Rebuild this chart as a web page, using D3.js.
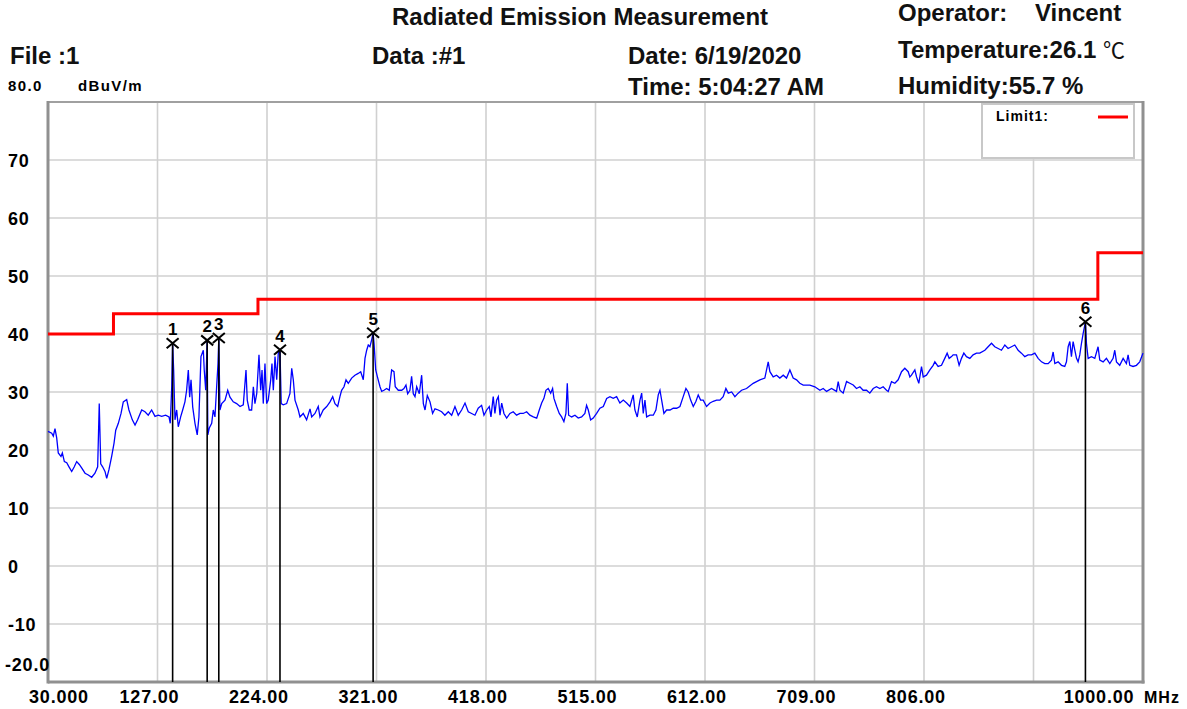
<!DOCTYPE html>
<html>
<head>
<meta charset="utf-8">
<script src="https://cdn.jsdelivr.net/npm/d3@7"></script>
<style>
  html, body { margin: 0; padding: 0; background: #fff; }
  svg { display: block; }
  text { font-family: "Liberation Sans", Arial, sans-serif; }
</style>
</head>
<body>
<svg id="chart" width="1187" height="709"></svg>
<script>
// ---------------- DATA ----------------
const xTicks = [30, 127, 224, 321, 418, 515, 612, 709, 806, 903, 1000];
const xTickLabels = ["30.000", "127.00", "224.00", "321.00", "418.00", "515.00", "612.00", "709.00", "806.00", "", "1000.00"];
const yTicks = [-20, -10, 0, 10, 20, 30, 40, 50, 60, 70];
const yTickLabels = ["-20.0", "-10", "0", "10", "20", "30", "40", "50", "60", "70"];

const limitEdges = [30, 88, 216, 960, 1000];
const limitLevels = [40, 43.5, 46, 54];

const markerIds = ["1", "2", "3", "4", "5", "6"];
const markerFreq = [140.4, 171.0, 181.3, 235.5, 318.0, 949.0];
const markerLevel = [38.4, 38.9, 39.3, 37.3, 40.2, 42.1];

const traceFreq = [
  30.0, 33.3, 34.7, 36.2, 37.7, 39.1, 41.5, 42.7, 44.5, 46.6, 48.6, 51.0, 53.3, 55.4, 57.7, 59.8,
  62.8, 65.7, 68.7, 71.6, 74.0, 75.4, 76.7, 78.4, 80.5, 82.0, 84.0, 86.4, 88.5, 90.0, 92.3, 94.7,
  96.7, 99.7, 101.7, 104.7, 107.1, 109.4, 113.0, 115.9, 118.8, 121.8, 124.8, 127.7, 130.7, 134.2,
  137.2, 138.3, 139.6, 140.4, 141.3, 142.5, 144.0, 145.4, 147.5, 149.3, 151.3, 152.8, 154.3, 155.5,
  156.7, 158.2, 160.2, 162.2, 163.7, 165.5, 167.6, 168.4, 169.7, 171.0, 171.6, 172.9, 175.0, 176.4,
  177.9, 179.4, 180.6, 181.3, 182.3, 183.9, 186.8, 189.2, 191.2, 194.1, 197.1, 200.1, 203.0, 205.4,
  206.5, 208.3, 210.4, 211.9, 213.3, 214.9, 216.9, 218.4, 219.6, 220.7, 222.2, 223.7, 225.1, 227.3,
  228.4, 229.6, 231.1, 232.6, 234.0, 235.5, 236.6, 238.4, 241.4, 244.3, 245.9, 247.3, 248.8, 251.7,
  253.2, 256.1, 259.1, 262.1, 263.6, 266.5, 269.4, 270.9, 273.8, 276.9, 279.8, 282.2, 284.2, 286.6,
  288.6, 290.1, 292.2, 294.0, 296.0, 299.0, 301.9, 304.8, 307.0, 309.3, 310.8, 312.3, 313.7, 315.2,
  316.7, 318.0, 318.8, 320.3, 321.7, 324.1, 325.6, 327.6, 330.0, 332.3, 334.4, 336.5, 337.6, 340.3,
  343.3, 345.3, 347.1, 348.6, 350.6, 352.1, 353.6, 355.1, 356.6, 358.9, 361.0, 362.5, 364.0, 366.0,
  368.4, 370.7, 372.8, 375.7, 378.7, 381.6, 384.6, 387.6, 390.5, 393.4, 396.4, 399.4, 402.3, 405.3,
  408.2, 411.1, 414.1, 416.2, 418.6, 420.9, 422.4, 424.4, 425.9, 427.4, 428.9, 430.4, 431.9, 433.9,
  436.3, 439.2, 442.1, 445.1, 448.1, 451.0, 454.0, 456.9, 459.9, 462.9, 465.2, 467.3, 469.3, 471.1,
  473.1, 475.3, 477.0, 478.2, 480.6, 482.9, 485.0, 487.0, 488.8, 490.0, 491.2, 493.9, 496.8, 499.7,
  502.7, 505.6, 507.1, 508.6, 510.7, 513.0, 516.0, 518.9, 521.9, 524.9, 527.8, 530.7, 533.7, 536.6,
  539.6, 542.6, 545.5, 548.4, 549.9, 552.0, 554.4, 555.9, 557.3, 558.8, 560.3, 563.2, 566.2, 568.5,
  570.6, 572.1, 573.6, 575.6, 578.0, 581.0, 583.9, 586.9, 589.8, 592.7, 595.1, 597.1, 599.3, 601.6,
  604.0, 606.0, 608.1, 610.4, 613.4, 616.4, 619.3, 622.3, 625.2, 628.1, 630.5, 632.6, 635.6, 638.5,
  641.4, 644.4, 648.8, 654.7, 660.6, 665.0, 668.0, 669.5, 672.4, 675.4, 678.3, 681.3, 684.2, 687.2,
  690.1, 693.1, 696.0, 699.0, 701.9, 704.9, 709.3, 713.8, 716.7, 719.7, 724.1, 728.5, 730.0, 731.5,
  734.4, 737.4, 740.3, 743.3, 746.2, 749.2, 752.1, 755.1, 758.0, 761.0, 763.9, 766.9, 769.8, 772.8,
  774.3, 777.2, 780.2, 783.1, 786.1, 789.0, 792.0, 793.5, 794.9, 797.9, 799.4, 801.4, 803.8, 805.3,
  808.2, 811.2, 814.1, 815.6, 818.5, 821.5, 824.4, 826.5, 828.3, 830.4, 831.8, 834.8, 837.1, 839.2,
  841.3, 843.6, 846.6, 849.5, 852.5, 855.4, 859.9, 862.8, 865.8, 868.7, 871.7, 874.6, 877.6, 880.5,
  883.5, 886.4, 889.4, 892.3, 895.3, 898.2, 901.2, 904.2, 907.1, 910.1, 913.0, 916.0, 918.9, 920.4,
  921.9, 924.8, 927.8, 930.7, 932.2, 933.7, 935.2, 936.6, 938.1, 939.6, 941.1, 942.5, 944.0, 945.5,
  947.0, 949.0, 949.9, 951.4, 954.3, 957.3, 960.2, 961.7, 964.7, 967.6, 970.6, 973.5, 975.0, 976.5,
  979.4, 982.4, 985.3, 986.8, 988.3, 991.2, 994.2, 997.1, 1000.0
];
const traceLevel = [
  23.2, 22.9, 22.4, 23.7, 22.1, 19.5, 18.9, 19.5, 18.0, 17.8, 17.1, 16.3, 17.1, 18.0, 17.5, 16.9,
  16.0, 15.7, 15.3, 16.0, 17.1, 28.0, 17.6, 17.1, 16.3, 15.1, 16.6, 18.9, 21.2, 23.4, 24.6, 26.3,
  28.3, 28.7, 26.9, 25.2, 24.3, 25.2, 26.9, 26.6, 26.0, 26.9, 25.8, 26.0, 25.8, 26.0,
  25.7, 24.6, 30.9, 38.4, 33.8, 25.2, 26.9, 24.0, 25.7, 26.9, 28.3, 30.3, 33.8, 29.1,
  32.1, 27.4, 24.6, 22.6, 25.7, 36.1, 37.2, 33.8, 30.3, 38.9, 22.6, 23.8, 24.6, 26.9,
  25.7, 30.9, 34.9, 39.3, 26.9, 28.0, 28.6, 30.3, 29.1, 28.3, 28.0, 27.5, 27.8, 33.8,
  28.6, 26.9, 26.9, 30.9, 28.0, 29.7, 36.4, 30.3, 33.8, 28.0, 34.9, 28.0, 28.6, 32.1,
  34.9, 30.3, 36.1, 32.1, 36.7, 37.3, 28.0, 27.8, 28.0, 29.7, 34.1, 32.1, 28.6, 26.9,
  25.7, 26.3, 25.2, 27.1, 25.7, 26.3, 27.5, 25.7, 26.9, 27.5, 28.3, 29.2, 28.0, 27.5,
  29.2, 30.3, 30.9, 32.1, 31.5, 32.4, 32.9, 33.2, 33.5, 32.1, 35.8, 37.2, 38.1, 37.8,
  39.0, 40.2, 38.4, 33.8, 32.7, 30.9, 30.1, 30.3, 30.6, 30.3, 33.8, 33.5, 30.9, 30.3,
  30.3, 30.6, 31.2, 29.7, 30.3, 32.7, 29.7, 29.2, 30.9, 29.7, 32.9, 28.0, 26.9, 29.4,
  28.3, 26.3, 27.1, 26.9, 26.6, 26.0, 26.6, 26.0, 27.5, 26.0, 26.9, 28.1, 26.6, 26.3,
  26.0, 27.2, 27.7, 26.0, 26.9, 27.5, 25.7, 29.2, 26.3, 28.6, 29.2, 26.0, 28.1, 26.3,
  25.5, 26.3, 26.6, 26.0, 26.3, 26.3, 26.6, 26.0, 25.7, 25.5, 26.9, 28.1, 28.9, 30.3,
  30.6, 29.8, 30.6, 28.9, 27.5, 26.3, 25.7, 24.9, 26.3, 31.5, 26.0, 25.7, 26.0, 25.5,
  25.7, 26.3, 27.7, 26.9, 25.2, 25.5, 26.3, 27.2, 27.5, 28.9, 29.2, 28.9, 29.2, 28.1,
  28.6, 28.1, 27.5, 29.5, 26.9, 25.7, 28.6, 29.8, 26.3, 28.6, 25.7, 26.0, 26.0, 26.9,
  29.5, 30.3, 28.6, 26.3, 26.9, 26.9, 27.2, 27.2, 27.5, 29.2, 30.6, 30.0, 28.6, 27.5,
  28.4, 29.5, 28.6, 28.6, 27.5, 28.1, 28.4, 28.6, 28.6, 29.2, 30.6, 29.8, 30.0, 29.2,
  29.8, 30.3, 30.6, 31.5, 32.1, 32.4, 35.2, 33.5, 32.6, 32.9, 32.4, 32.9, 32.4, 33.8,
  32.4, 32.1, 31.5, 31.2, 31.2, 31.2, 30.9, 30.3, 30.6, 30.1, 30.6, 30.1, 31.8, 30.3,
  29.8, 31.8, 31.5, 31.2, 30.6, 30.9, 30.3, 30.3, 29.8, 30.6, 30.9, 30.6, 30.9, 30.3,
  30.1, 31.8, 31.5, 32.1, 33.5, 34.1, 33.5, 32.6, 32.9, 33.8, 32.6, 31.5, 34.4, 32.6,
  32.9, 33.8, 34.6, 35.2, 34.4, 34.6, 35.8, 36.7, 35.8, 36.1, 36.4, 36.4, 34.6, 35.8,
  36.7, 36.1, 35.8, 36.4, 36.7, 36.7, 37.2, 37.8, 38.4, 37.8, 37.5, 37.2, 38.1, 37.5,
  37.8, 38.1, 37.2, 36.7, 36.1, 36.4, 36.4, 36.7, 35.8, 35.2, 34.9, 34.9, 35.5, 36.9,
  34.9, 35.2, 34.6, 34.4, 35.2, 37.8, 38.7, 36.1, 38.7, 37.2, 35.8, 35.2, 36.4, 38.4,
  40.1, 42.1, 38.4, 35.8, 36.1, 35.8, 37.8, 35.5, 35.2, 35.8, 34.9, 35.8, 37.2, 35.2,
  34.6, 35.8, 34.9, 36.4, 34.6, 34.4, 34.6, 35.2, 36.7
];

// ---------------- CHART ----------------
const svg = d3.select("#chart");
const W = 1187, H = 709;
const plot = { left: 48, right: 1143, top: 102, bottom: 682 };

svg.append("rect").attr("width", W).attr("height", H).attr("fill", "#fff");

const x = d3.scaleLinear().domain([30, 1000]).range([plot.left, plot.right]);
const y = d3.scaleLinear().domain([-20, 80]).range([plot.bottom, plot.top]);

// Grid
const grid = svg.append("g");
grid.selectAll("line.v").data(xTicks.slice(1, -1)).join("line")
  .attr("x1", d => x(d)).attr("x2", d => x(d))
  .attr("y1", plot.top).attr("y2", plot.bottom)
  .attr("stroke", "#d0d0d0").attr("stroke-width", 1.6);
grid.selectAll("line.h").data(yTicks.slice(1)).join("line")
  .attr("x1", plot.left).attr("x2", plot.right)
  .attr("y1", d => y(d)).attr("y2", d => y(d))
  .attr("stroke", "#d0d0d0").attr("stroke-width", 1.6);

// Frame
svg.append("line").attr("x1", plot.left).attr("x2", plot.right).attr("y1", plot.top).attr("y2", plot.top)
  .attr("stroke", "#a0a0a0").attr("stroke-width", 2);
svg.append("line").attr("x1", plot.left).attr("x2", plot.left).attr("y1", plot.top - 1).attr("y2", plot.bottom + 1.5)
  .attr("stroke", "#909090").attr("stroke-width", 3);
svg.append("line").attr("x1", plot.right).attr("x2", plot.right).attr("y1", plot.top - 1).attr("y2", plot.bottom + 1.5)
  .attr("stroke", "#909090").attr("stroke-width", 3);
svg.append("line").attr("x1", plot.left).attr("x2", plot.right + 1.5).attr("y1", plot.bottom).attr("y2", plot.bottom)
  .attr("stroke", "#909090").attr("stroke-width", 3);

// Y labels
svg.append("g").selectAll("text").data(yTicks).join("text")
  .attr("x", (d, i) => i === 0 ? 5 : 8)
  .attr("y", (d, i) => i === 0 ? y(d) - 11 : y(d) + 6.5)
  .attr("font-size", 18).attr("font-weight", "bold").attr("letter-spacing", 0.8)
  .attr("fill", "#000")
  .text((d, i) => yTickLabels[i]);
svg.append("text").attr("x", 8).attr("y", 91).attr("font-size", 15).attr("font-weight", "bold")
  .attr("letter-spacing", 1.4).text("80.0");
svg.append("text").attr("x", 78).attr("y", 91).attr("font-size", 15).attr("font-weight", "bold")
  .attr("letter-spacing", 1.4).text("dBuV/m");

// X labels
svg.append("g").selectAll("text").data(xTicks).join("text")
  .attr("x", (d, i) => i === 0 ? x(d) + 11 : (i === xTicks.length - 1 ? x(d) - 44 : x(d) - 8))
  .attr("y", 703)
  .attr("text-anchor", "middle")
  .attr("font-size", 18).attr("font-weight", "bold").attr("letter-spacing", 0.8)
  .text((d, i) => xTickLabels[i]);
svg.append("text").attr("x", 1144).attr("y", 703).attr("font-size", 16).attr("font-weight", "bold")
  .attr("letter-spacing", 1).text("MHz");

// Limit line
const limitPts = limitEdges.map((f, i) => [f, limitLevels[Math.min(i, limitLevels.length - 1)]]);
svg.append("path").datum(limitPts)
  .attr("d", d3.line().x(d => x(d[0])).y(d => y(d[1])).curve(d3.curveStepAfter))
  .attr("fill", "none").attr("stroke", "#ff0000").attr("stroke-width", 3);

// Trace
const trace = traceFreq.map((f, i) => [f, traceLevel[i]]);
svg.append("path").datum(trace)
  .attr("d", d3.line().x(d => x(d[0])).y(d => y(d[1])))
  .attr("fill", "none").attr("stroke", "#0000ff").attr("stroke-width", 1.3)
  .attr("stroke-linejoin", "miter");

// Markers
const mk = svg.append("g");
markerIds.forEach((id, i) => {
  const mx = x(markerFreq[i]), my = y(markerLevel[i]);
  mk.append("line").attr("x1", mx).attr("x2", mx).attr("y1", my).attr("y2", plot.bottom)
    .attr("stroke", "#000").attr("stroke-width", 1.6);
  mk.append("path").attr("d", `M${mx - 6},${my - 5}L${mx + 6},${my + 5}M${mx - 6},${my + 5}L${mx + 6},${my - 5}`)
    .attr("stroke", "#000").attr("stroke-width", 2).attr("fill", "none");
  mk.append("text").attr("x", mx).attr("y", my - 8).attr("text-anchor", "middle")
    .attr("font-size", 17).attr("font-weight", "bold").text(id);
});

// Legend
svg.append("rect").attr("x", 982).attr("y", 104).attr("width", 152).attr("height", 54)
  .attr("fill", "#fff").attr("stroke", "#c8c8c8").attr("stroke-width", 2);
svg.append("text").attr("x", 996).attr("y", 121).attr("font-size", 14).attr("font-weight", "bold")
  .attr("letter-spacing", 1).text("Limit1:");
svg.append("line").attr("x1", 1098).attr("x2", 1128).attr("y1", 117).attr("y2", 117)
  .attr("stroke", "#ff0000").attr("stroke-width", 3);

// Header
const hdr = svg.append("g").attr("font-weight", "bold").attr("font-size", 24).attr("fill", "#111");
hdr.append("text").attr("x", 392).attr("y", 25).text("Radiated Emission Measurement");
hdr.append("text").attr("x", 10).attr("y", 64).text("File :1");
hdr.append("text").attr("x", 372).attr("y", 64).text("Data :#1");
hdr.append("text").attr("x", 628).attr("y", 64).text("Date: 6/19/2020");
hdr.append("text").attr("x", 628).attr("y", 95).text("Time: 5:04:27 AM");
hdr.append("text").attr("x", 898).attr("y", 21).text("Operator:");
hdr.append("text").attr("x", 1035).attr("y", 21).text("Vincent");
const t = hdr.append("text").attr("x", 898).attr("y", 58).text("Temperature:26.1 ");
t.append("tspan").attr("font-weight", "normal").attr("font-family", "'Noto Sans CJK SC', sans-serif")
  .attr("font-size", 22).text("℃");
hdr.append("text").attr("x", 898).attr("y", 94).text("Humidity:55.7 %");
</script>
</body>
</html>
